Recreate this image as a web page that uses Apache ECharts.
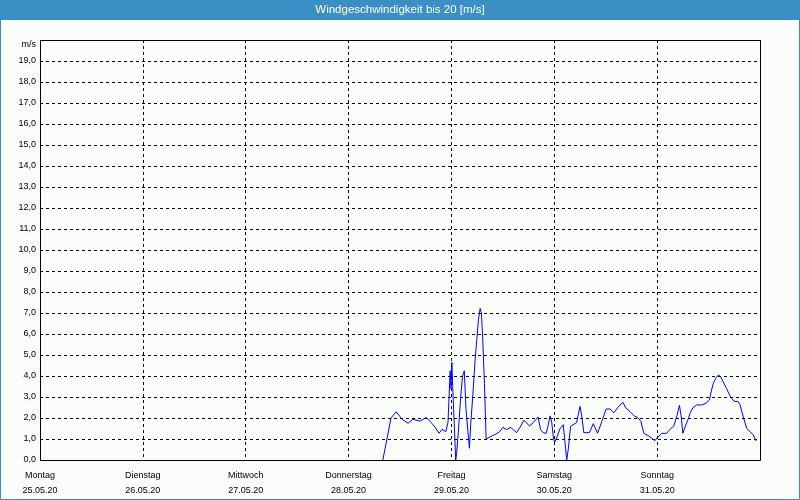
<!DOCTYPE html>
<html>
<head>
<meta charset="utf-8">
<script src="https://cdn.jsdelivr.net/npm/echarts@6/dist/echarts.min.js"></script>
<style>
html,body{margin:0;padding:0;background:#fbfdfb;}
#c{width:800px;height:500px;}
</style>
</head>
<body>
<div id="c"></div>
<script>
// Tick labels
var dayNames = ['Montag','Dienstag','Mittwoch','Donnerstag','Freitag','Samstag','Sonntag'];
var dayDates = ['25.05.20','26.05.20','27.05.20','28.05.20','29.05.20','30.05.20','31.05.20'];
// Hours since Monday 25.05.20 00:00
var hours = [80.0,81.9,83.1,84.5,85.9,87.0,88.7,90.1,91.2,92.2,93.1,93.8,94.7,95.2,95.7,95.9,96.1,96.3,97.0,97.2,97.6,98.2,98.6,99.0,99.4,100.2,100.5,101.0,101.5,101.9,102.3,102.7,103.0,103.3,103.7,104.1,105.0,106.2,107.3,108.0,108.9,109.8,110.4,111.2,112.2,112.9,114.2,115.1,116.2,116.8,117.4,118.1,118.6,119.0,119.4,119.8,120.1,120.7,121.3,122.1,122.9,123.3,123.8,124.4,125.2,125.6,126.0,126.4,126.9,128.2,129.1,130.1,131.1,132.1,133.0,133.9,134.9,136.0,136.7,137.7,138.8,139.4,140.2,140.9,141.9,143.0,143.5,144.0,145.1,146.2,147.0,147.9,148.6,149.2,149.6,150.0,150.7,151.3,151.8,152.4,153.2,154.4,155.4,156.2,156.7,157.1,157.7,158.3,158.8,159.4,160.2,161.0,161.9,162.9,163.3,164.1,164.9,165.7,166.4,167.1];
// Wind speed m/s
var speed = [0,2.0,2.3,1.94,1.75,1.94,1.85,2.03,1.8,1.56,1.27,1.46,1.35,1.8,4.25,3.4,4.65,3.5,0.0,0.3,1.3,3.1,4.0,4.25,2.4,0.56,1.7,3.1,4.7,5.7,6.67,7.22,7.0,5.8,3.65,1.0,1.1,1.22,1.35,1.55,1.45,1.55,1.45,1.3,1.62,1.9,1.62,1.78,2.05,1.45,1.3,1.27,1.68,2.1,1.8,1.05,0.85,1.13,1.48,1.68,0,0.57,1.6,1.68,1.78,2.16,2.55,2.1,1.3,1.3,1.73,1.27,1.84,2.43,2.43,2.25,2.52,2.75,2.48,2.3,2.07,2.04,1.84,1.27,1.16,1.0,0.92,1.05,1.27,1.27,1.46,1.62,2.1,2.6,2.1,1.27,1.67,1.98,2.3,2.5,2.62,2.62,2.7,2.86,3.33,3.65,3.9,4.05,3.97,3.73,3.4,3.05,2.8,2.78,2.65,2.05,1.5,1.35,1.2,0.9];
var titleText = 'Windgeschwindigkeit bis 20 [m/s]';
var unitLabel = 'm/s';

var data = hours.map(function(h,i){return [h, speed[i]];});
var FONT = 'Liberation Sans';
var chart = echarts.init(document.getElementById('c'), null, {renderer:'canvas'});
chart.setOption({
  animation:false,
  backgroundColor:'#fbfdfb',
  graphic:[
    {type:'rect', shape:{x:0.5,y:0.5,width:799,height:499}, style:{fill:'none',stroke:'#3a8fc4',lineWidth:1}, z:-1},
    {type:'rect', shape:{x:0,y:0,width:800,height:20}, style:{fill:'#3a8fc4'}},
    {type:'text', left:'center', top:4, style:{text:titleText, fill:'#ffffff', font:'11.5px "Liberation Sans"'}},
    {type:'rect', shape:{x:40.5,y:40.5,width:720,height:420}, style:{fill:'none',stroke:'#000',lineWidth:1}, z:100}
  ],
  grid:{left:40,right:40,top:40,bottom:40,show:false},
  xAxis:{
    type:'value', min:0, max:168, interval:24,
    axisLine:{show:false}, axisTick:{show:false},
    splitLine:{show:true,lineStyle:{color:'#000',type:[3,3],width:1}},
    axisLabel:{
      showMaxLabel:false, margin:8, color:'#000', fontFamily:FONT, fontSize:9, lineHeight:15,
      formatter:function(v){var i=Math.round(v/24); return i<dayNames.length ? dayNames[i]+'\n'+dayDates[i] : '';}
    }
  },
  yAxis:{
    type:'value', min:0, max:20, interval:1,
    axisLine:{show:false}, axisTick:{show:false},
    splitLine:{show:true,lineStyle:{color:'#000',type:[3,3],width:1}},
    axisLabel:{
      margin:4, color:'#000', fontFamily:FONT, fontSize:9,
      formatter:function(v){ return v===20 ? '{u|'+unitLabel+'}' : v.toFixed(1).replace('.',','); },
      rich:{u:{fontFamily:FONT,fontSize:9,color:'#000',padding:[10,0,0,0]}}
    }
  },
  series:[{
    type:'line', data:data, showSymbol:false, symbol:'none',
    lineStyle:{color:'#0000ff',width:1}, itemStyle:{color:'#0000ff'}
  }]
});
</script>
</body>
</html>
